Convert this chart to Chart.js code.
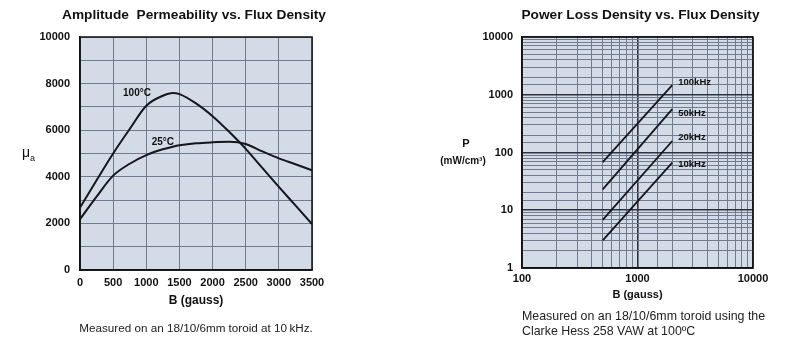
<!DOCTYPE html>
<html>
<head>
<meta charset="utf-8">
<script src="https://cdn.jsdelivr.net/npm/chart.js@4.4.1/dist/chart.umd.min.js"></script>
<style>
  body { margin: 0; background: #fff; }
  #page { position: relative; width: 800px; height: 342px; font-family: "Liberation Sans", Arial, sans-serif; }
  .box { position: absolute; top: 0; width: 400px; height: 342px; }
  .note { position: absolute; color: #222; line-height: 15px; }
</style>
</head>
<body>
<div id="page">
  <div class="box" style="left:0"><canvas id="permChart"></canvas></div>
  <div class="box" style="left:400px"><canvas id="lossChart"></canvas></div>
  <div class="note" style="left:60px; width:272px; top:320px; text-align:center; font-size:11.7px;">Measured on an 18/10/6mm toroid at 10&#8201;kHz.</div>
  <div class="note" style="left:522px; top:309px; font-size:12.4px;">Measured on an 18/10/6mm toroid using the<br>Clarke Hess 258 VAW at 100ºC</div>
</div>
<script>
  // amplitude permeability vs flux density
  let bGauss = [0, 250, 500, 750, 1000, 1250, 1400, 1500, 1750, 2000, 2250, 2500, 2750, 3000, 3250, 3500];
  let mu100C = [2680, 3850, 5000, 6050, 7050, 7480, 7600, 7550, 7150, 6600, 5930, 5200, 4380, 3570, 2770, 1970];
  let mu25C = [2180, 3150, 4050, 4560, 4930, 5180, 5290, 5350, 5440, 5480, 5500, 5410, 5090, 4790, 4540, 4280];

  // power loss density vs flux density (two end points per line)
  let lossB = [500, 2000];
  let loss100k = [68, 1470];
  let loss50k = [23, 565];
  let loss20k = [6.8, 158];
  let loss10k = [3.0, 67];
  let lossNames = ["100kHz", "50kHz", "20kHz", "10kHz"];

  let permTicks = [0, 2000, 4000, 6000, 8000, 10000];
  let lossTicks = [1, 10, 100, 1000, 10000];

  const FONT = '"Liberation Sans", Arial, sans-serif';
  const PAPER = "#d3dbe7";
  const GRID = "#717b8e";
  const MAJOR = "#2e3340";

  function isDecade(v) {
    let l = Math.log10(v);
    return Math.abs(l - Math.round(l)) < 1e-9;
  }

  // fills the plot with the paper colour and draws the black frame
  let paperPlugin = {
    id: "paper",
    beforeDraw(chart) {
      let a = chart.chartArea;
      let ctx = chart.ctx;
      ctx.save();
      ctx.fillStyle = PAPER;
      ctx.fillRect(a.left, a.top, a.right - a.left, a.bottom - a.top);
      ctx.restore();
    },
    afterDatasetsDraw(chart) {
      let a = chart.chartArea;
      let ctx = chart.ctx;
      ctx.save();
      ctx.strokeStyle = "#111";
      ctx.lineWidth = 1.5;
      ctx.strokeRect(a.left, a.top, a.right - a.left, a.bottom - a.top);
      ctx.restore();
    }
  };

  // heading, text placed at data coordinates, and the free labels beside the axes
  let textPlugin = {
    id: "texts",
    afterDatasetsDraw(chart, args, opts) {
      let ctx = chart.ctx;
      let xs = chart.scales.x;
      let ys = chart.scales.y;
      let a = chart.chartArea;
      ctx.save();
      ctx.fillStyle = "#111";
      if (opts.heading) {
        ctx.font = "bold 13.7px " + FONT;
        ctx.textAlign = "center";
        ctx.textBaseline = "middle";
        ctx.fillText(opts.heading, (a.left + a.right) / 2 + (opts.headingDx || 0), 15);
      }
      (opts.labels || []).forEach(function (l) {
        ctx.font = "bold " + l.size + "px " + FONT;
        ctx.textAlign = l.align || "center";
        ctx.textBaseline = "middle";
        ctx.fillText(l.text, xs.getPixelForValue(l.x) + (l.dx || 0), ys.getPixelForValue(l.y) + (l.dy || 0));
      });
      if (opts.draw) opts.draw(ctx, chart);
      ctx.restore();
    }
  };

  let axisFont = { family: FONT, size: 11, weight: "bold" };

  new Chart(document.getElementById("permChart"), {
    type: "line",
    data: {
      datasets: [
        { label: "100°C", data: bGauss.map((b, i) => ({ x: b, y: mu100C[i] })) },
        { label: "25°C", data: bGauss.map((b, i) => ({ x: b, y: mu25C[i] })) }
      ]
    },
    options: {
      responsive: true,
      maintainAspectRatio: false,
      animation: false,
      cubicInterpolationMode: "monotone",
      elements: {
        line: { borderColor: "#15151c", borderWidth: 2 },
        point: { radius: 0 }
      },
      layout: { padding: { left: 0, right: 88, top: 37, bottom: 0 } },
      scales: {
        x: {
          type: "linear", min: 0, max: 3500,
          afterFit: (s) => { s.height = 72; },
          ticks: { stepSize: 500, font: axisFont, color: "#111", padding: 6, maxRotation: 0, callback: (v) => String(v) },
          grid: { color: GRID, lineWidth: 1, drawTicks: false },
          border: { color: "#111", width: 1.5 },
          title: { display: true, text: "B (gauss)", font: { family: FONT, size: 12, weight: "bold" }, color: "#111", padding: { top: 0, bottom: 34 } }
        },
        y: {
          type: "linear", min: 0, max: 10000,
          afterFit: (s) => { s.width = 80; },
          ticks: {
            stepSize: 1000, font: axisFont, color: "#111", padding: 10,
            callback: (v) => permTicks.includes(v) ? String(v) : ""
          },
          grid: { color: GRID, lineWidth: 1, drawTicks: false },
          border: { color: "#111", width: 1.5 }
        }
      },
      plugins: {
        legend: { display: false },
        tooltip: { enabled: false },
        title: { display: false },
        texts: {
          heading: "Amplitude  Permeability vs. Flux Density",
          headingDx: -2,
          labels: [
            { text: "100°C", x: 860, y: 7600, size: 10 },
            { text: "25°C", x: 1250, y: 5500, size: 10 }
          ],
          draw(ctx, chart) {
            let y = chart.scales.y.getPixelForValue(5000);
            ctx.font = "14px " + FONT;
            ctx.textAlign = "left";
            ctx.textBaseline = "middle";
            ctx.fillText("μ", 22, y);
            ctx.font = "9px " + FONT;
            ctx.fillText("a", 30, y + 5);
          }
        }
      }
    },
    plugins: [paperPlugin, textPlugin]
  });

  let lossSeries = [loss100k, loss50k, loss20k, loss10k];
  let lossOffsets = [-3, 4, -4, 2];

  new Chart(document.getElementById("lossChart"), {
    type: "line",
    data: {
      datasets: lossSeries.map((s, k) => ({
        label: lossNames[k],
        data: lossB.map((b, i) => ({ x: b, y: s[i] }))
      }))
    },
    options: {
      responsive: true,
      maintainAspectRatio: false,
      animation: false,
      elements: {
        line: { borderColor: "#15151c", borderWidth: 1.8 },
        point: { radius: 0 }
      },
      layout: { padding: { left: 0, right: 47, top: 37, bottom: 0 } },
      scales: {
        x: {
          type: "logarithmic", min: 100, max: 10000,
          afterFit: (s) => { s.height = 74; },
          ticks: {
            font: axisFont, color: "#111", padding: 4, autoSkip: false, maxRotation: 0,
            callback: (v) => lossTicks.includes(v) ? String(v) : ""
          },
          grid: {
            drawTicks: false,
            color: (c) => c.tick && isDecade(c.tick.value) ? MAJOR : GRID,
            lineWidth: (c) => c.tick && isDecade(c.tick.value) ? 1.6 : 1
          },
          border: { color: "#111", width: 1.5 },
          title: { display: true, text: "B (gauss)", font: axisFont, color: "#111", padding: { top: 0, bottom: 40 } }
        },
        y: {
          type: "logarithmic", min: 1, max: 10000,
          afterFit: (s) => { s.width = 122; },
          ticks: {
            font: axisFont, color: "#111", padding: 9, autoSkip: false,
            callback: (v) => lossTicks.includes(v) ? String(v) : ""
          },
          grid: {
            drawTicks: false,
            color: (c) => c.tick && isDecade(c.tick.value) ? MAJOR : GRID,
            lineWidth: (c) => c.tick && isDecade(c.tick.value) ? 1.6 : 1
          },
          border: { color: "#111", width: 1.5 }
        }
      },
      plugins: {
        legend: { display: false },
        tooltip: { enabled: false },
        title: { display: false },
        texts: {
          heading: "Power Loss Density vs. Flux Density",
          headingDx: 3,
          labels: lossSeries.map((s, k) => ({
            text: lossNames[k], x: lossB[1], y: s[1], size: 9.5, align: "left", dx: 6, dy: lossOffsets[k]
          })),
          draw(ctx, chart) {
            ctx.textAlign = "center";
            ctx.textBaseline = "middle";
            ctx.font = "bold 11px " + FONT;
            ctx.fillText("P", 66, 144);
            ctx.font = "bold 10px " + FONT;
            ctx.fillText("(mW/cm³)", 63, 161);
          }
        }
      }
    },
    plugins: [paperPlugin, textPlugin]
  });
</script>
</body>
</html>
